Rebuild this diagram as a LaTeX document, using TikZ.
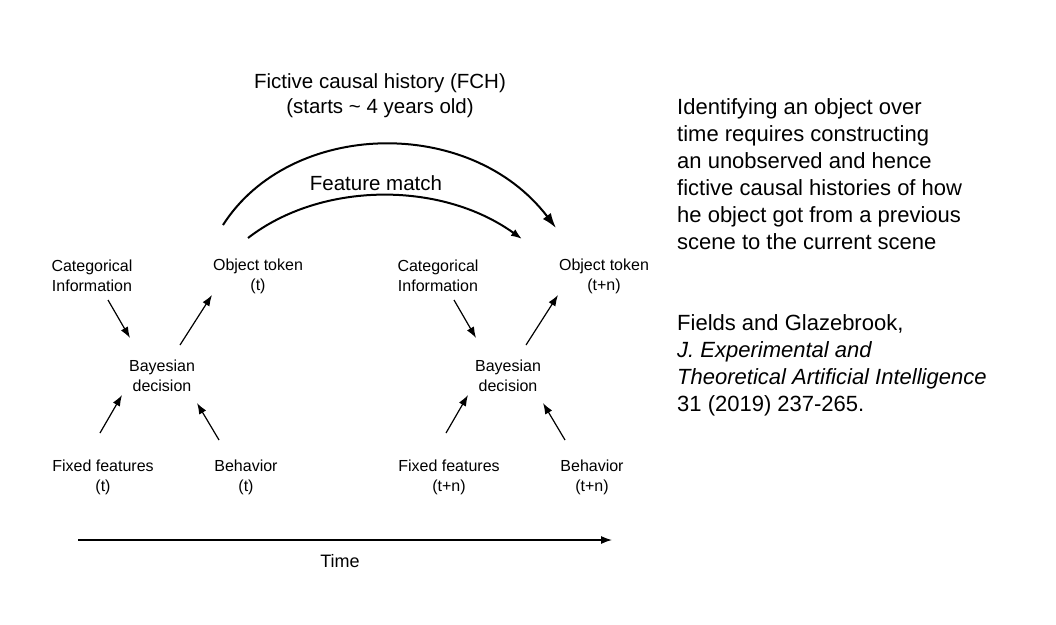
\documentclass[tikz,border=0pt]{standalone}
\usepackage{fontspec}
\setmainfont{Liberation Sans}
\usetikzlibrary{arrows.meta}
\begin{document}
\begin{tikzpicture}[x=1pt,y=-1pt,
 lab/.style={align=center,font=\fontsize{16}{20}\selectfont,inner sep=0pt},
 big/.style={align=center,font=\fontsize{20.5}{25}\selectfont,inner sep=0pt},
 rt/.style={align=left,anchor=north west,font=\fontsize{22}{27}\selectfont,inner sep=0pt},
 arr/.style={-{Latex[length=11pt,width=8pt]},line width=1.2pt},
 barr/.style={-{Latex[length=15pt,width=10pt]},line width=2pt}]
\useasboundingbox (0,0) rectangle (1056,624);
\foreach \d/\s in {0/t,346/t+n}{
 \node[lab] (c\d) at (92+\d,276) {Categorical\\Information};
 \node[lab] (o\d) at (258+\d,276) {Object token\\(\s)};
 \node[lab] (b\d) at (162+\d,376) {Bayesian\\decision};
 \node[lab] (f\d) at (103+\d,477) {Fixed features\\(\s)};
 \node[lab] (h\d) at (246+\d,477) {Behavior\\(\s)};
 \coordinate (a1\d) at (108+\d,300); \coordinate (a2\d) at (130+\d,338);
 \coordinate (a3\d) at (180+\d,345); \coordinate (a4\d) at (212+\d,295);
 \coordinate (a5\d) at (100+\d,433); \coordinate (a6\d) at (122+\d,395);
 \coordinate (a7\d) at (219+\d,440); \coordinate (a8\d) at (197+\d,403);
 \draw[arr] (a1\d) -- (a2\d);
 \draw[arr] (a3\d) -- (a4\d);
 \draw[arr] (a5\d) -- (a6\d);
 \draw[arr] (a7\d) -- (a8\d);
}
\coordinate (p1) at (223,225); \coordinate (p2) at (556,228);
\draw[barr] (p1) .. controls (290,120) and (470,115) .. (p2);
\coordinate (q1) at (248,238); \coordinate (q2) at (522,239);
\draw[arr,line width=2pt] (q1) .. controls (320,182) and (440,180) .. (q2);
\node[big] (fch) at (380,96) {Fictive causal history (FCH)\\(starts \~{} 4 years old)};
\node[big] (fm) at (376,183) {Feature match};
\coordinate (t1) at (78,540); \coordinate (t2) at (612,540);
\draw[arr] (t1) -- (t2);
\node[lab,font=\fontsize{18}{22}\selectfont] (time) at (340,561) {Time};
\node[rt] (r1) at (677,98) {Identifying an object over\\time requires constructing\\an unobserved and hence\\fictive causal histories of how\\he object got from a previous\\scene to the current scene};
\node[rt] (r2) at (677,314) {Fields and Glazebrook,\\\textit{J. Experimental and}\\\textit{Theoretical Artificial Intelligence}\\31 (2019) 237-265.};
\end{tikzpicture}
\end{document}
